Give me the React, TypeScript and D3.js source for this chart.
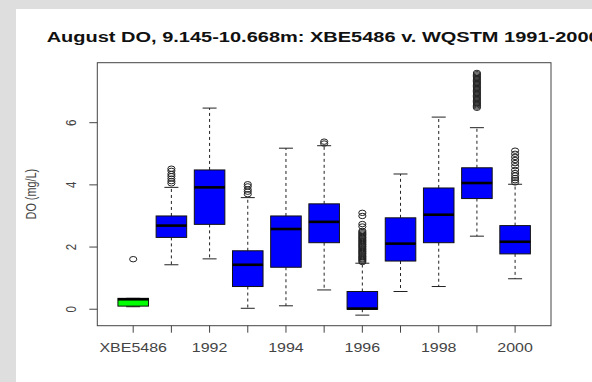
import React from "react";
import * as d3 from "d3";

const categories = ["XBE5486", "1991", "1992", "1993", "1994", "1995", "1996", "1997", "1998", "1999", "2000"];
const lowWhisker = [0.08, 1.43, 1.62, 0.03, 0.11, 0.62, -0.19, 0.57, 0.73, 2.35, 0.98];
const q1 = [0.1, 2.31, 2.73, 0.73, 1.35, 2.14, 0.0, 1.55, 2.14, 3.56, 1.78];
const median = [0.32, 2.69, 3.92, 1.43, 2.58, 2.81, 0.02, 2.11, 3.04, 4.06, 2.17];
const q3 = [0.35, 3.0, 4.48, 1.88, 3.0, 3.39, 0.57, 2.94, 3.9, 4.55, 2.69];
const highWhisker = [0.35, 3.92, 6.47, 3.59, 5.18, 5.26, 1.48, 4.35, 6.18, 5.84, 4.02];
const outliers: number[][] = [
  [1.61],
  [4.05, 4.12, 4.2, 4.28, 4.35, 4.45, 4.52],
  [],
  [3.7, 3.78, 3.85, 3.95, 4.02],
  [],
  [5.33, 5.39],
  [1.52, 1.56, 1.6, 1.63, 1.67, 1.7, 1.74, 1.78, 1.81, 1.85, 1.88, 1.92, 1.96, 2.0, 2.03, 2.07, 2.1, 2.14, 2.18, 2.21, 2.25, 2.29, 2.32, 2.36, 2.4, 2.44, 2.48, 2.52, 2.66, 2.74, 3.0, 3.1],
  [],
  [],
  [6.48, 6.52, 6.56, 6.6, 6.64, 6.68, 6.72, 6.76, 6.8, 6.84, 6.88, 6.92, 6.96, 7.0, 7.04, 7.08, 7.12, 7.16, 7.2, 7.24, 7.28, 7.32, 7.36, 7.4, 7.44, 7.48, 7.52, 7.56, 7.6],
  [4.08, 4.15, 4.22, 4.3, 4.38, 4.48, 4.6, 4.7, 4.8, 4.9, 5.0, 5.1],
];
const boxColors = ["#00ff00", "#0000ff", "#0000ff", "#0000ff", "#0000ff", "#0000ff", "#0000ff", "#0000ff", "#0000ff", "#0000ff", "#0000ff"];
const xTickLabels = ["XBE5486", "", "1992", "", "1994", "", "1996", "", "1998", "", "2000"];
const yTicks = [0, 2, 4, 6];
const title = "August DO, 9.145-10.668m: XBE5486 v. WQSTM 1991-2000";
const yLabel = "DO (mg/L)";

const W = 592;
const H = 382;
const plot = { left: 97.3, top: 62.7, right: 551, bottom: 325.7 };
const FONT = "'Liberation Sans', Arial, sans-serif";
const SX = 1.3;

export default function App() {
  const x = d3.scaleLinear().domain([0.06, categories.length + 0.94]).range([plot.left, plot.right]);
  const y = d3.scaleLinear().domain([-0.53, 7.93]).range([plot.bottom, plot.top]);
  const unit = x(2) - x(1);
  const bw = unit * 0.8;
  const cap = 14;

  return (
    <svg width={W} height={H} style={{ position: "absolute", left: 0, top: 0, display: "block" }}>
      <rect x={0} y={0} width={W} height={H} fill="#dedede" />
      <rect x={16} y={9} width={W - 16} height={H - 9} fill="#ffffff" />
      <text
        x={46.7}
        y={41.5}
        fontFamily={FONT}
        fontWeight="bold"
        fontSize={14}
        fill="#111"
        textLength={553}
        lengthAdjust="spacingAndGlyphs"
      >
        {title}
      </text>

      {categories.map((c, i) => {
        const cx = x(i + 1);
        return (
          <g key={c}>
            <line x1={cx} x2={cx} y1={y(q3[i])} y2={y(highWhisker[i])} stroke="#222" strokeDasharray="3,3" />
            <line x1={cx} x2={cx} y1={y(q1[i])} y2={y(lowWhisker[i])} stroke="#222" strokeDasharray="3,3" />
            <line x1={cx - cap / 2} x2={cx + cap / 2} y1={y(highWhisker[i])} y2={y(highWhisker[i])} stroke="#222" />
            <line x1={cx - cap / 2} x2={cx + cap / 2} y1={y(lowWhisker[i])} y2={y(lowWhisker[i])} stroke="#222" />
            <rect
              x={cx - bw / 2}
              y={y(q3[i])}
              width={bw}
              height={Math.max(1, y(q1[i]) - y(q3[i]))}
              fill={boxColors[i]}
              stroke="#111"
            />
            <line x1={cx - bw / 2} x2={cx + bw / 2} y1={y(median[i])} y2={y(median[i])} stroke="#000" strokeWidth={2.6} />
            {outliers[i].map((v, j) => (
              <ellipse key={j} cx={cx} cy={y(v)} rx={3.6} ry={2.7} fill="none" stroke="#222" strokeWidth={1} />
            ))}
          </g>
        );
      })}

      <rect
        x={plot.left}
        y={plot.top}
        width={plot.right - plot.left}
        height={plot.bottom - plot.top}
        fill="none"
        stroke="#444"
      />

      {categories.map((c, i) => (
        <g key={"xt" + c}>
          <line x1={x(i + 1)} x2={x(i + 1)} y1={plot.bottom} y2={plot.bottom + 7} stroke="#444" />
          {xTickLabels[i] && (
            <text
              transform={`translate(${x(i + 1)},352) scale(${SX},1)`}
              textAnchor="middle"
              fontFamily={FONT}
              fontSize={12.3}
              fill="#444"
            >
              {xTickLabels[i]}
            </text>
          )}
        </g>
      ))}

      {yTicks.map((t) => (
        <g key={"yt" + t}>
          <line x1={plot.left - 8} x2={plot.left} y1={y(t)} y2={y(t)} stroke="#444" />
          <text
            transform={`translate(76,${y(t)}) scale(${SX},1) rotate(-90)`}
            textAnchor="middle"
            fontFamily={FONT}
            fontSize={11.5}
            fill="#444"
          >
            {t}
          </text>
        </g>
      ))}

      <text
        transform={`translate(36,${(plot.top + plot.bottom) / 2}) scale(${SX},1) rotate(-90)`}
        textAnchor="middle"
        fontFamily={FONT}
        fontSize={10.8}
        fill="#444"
      >
        {yLabel}
      </text>
    </svg>
  );
}
